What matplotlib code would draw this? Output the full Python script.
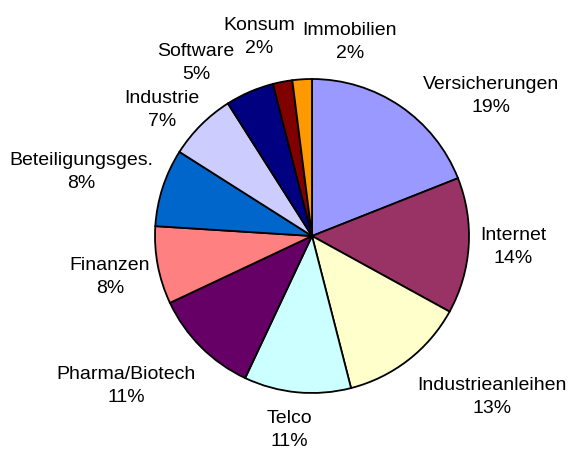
import matplotlib
matplotlib.use("Agg")
from matplotlib import pyplot as plt

plt.rcParams['font.family'] = ['Liberation Sans', 'DejaVu Sans']

# data, clockwise from 12 o'clock
categories = ['Versicherungen', 'Internet', 'Industrieanleihen', 'Telco', 'Pharma/Biotech',
              'Finanzen', 'Beteiligungsges.', 'Industrie', 'Software', 'Konsum', 'Immobilien']
shares = [19, 14, 13, 11, 11, 8, 8, 7, 5, 2, 2]
colors = ['#9999FF', '#993366', '#FFFFCC', '#CCFFFF', '#660066', '#FF8080',
          '#0066CC', '#CCCCFF', '#000080', '#800000', '#FF9900']

# label centres in pixels (x, y from top)
label_pos = [(491, 96), (513, 247), (492, 397), (289, 430), (126, 386), (110, 277),
             (81, 172), (162, 110), (196, 63), (259, 37), (350, 42)]

W, H = 569, 452
fig = plt.figure(figsize=(W / 100, H / 100), dpi=100)
ax = fig.add_axes([0, 0, 1, 1])
ax.axis('off')

ax.pie(shares, colors=colors, center=(312, H - 237), radius=157,
       startangle=90, counterclock=False,
       wedgeprops=dict(edgecolor='black', linewidth=1.3))
ax.set_xlim(0, W)
ax.set_ylim(0, H)
ax.set_aspect('equal')

for name, val, (px, py) in zip(categories, shares, label_pos):
    ax.text(px, H - py, f'{name}\n{val}%', ha='center', va='center',
            fontsize=14, linespacing=1.4)

fig.savefig('out.png', dpi=100)
